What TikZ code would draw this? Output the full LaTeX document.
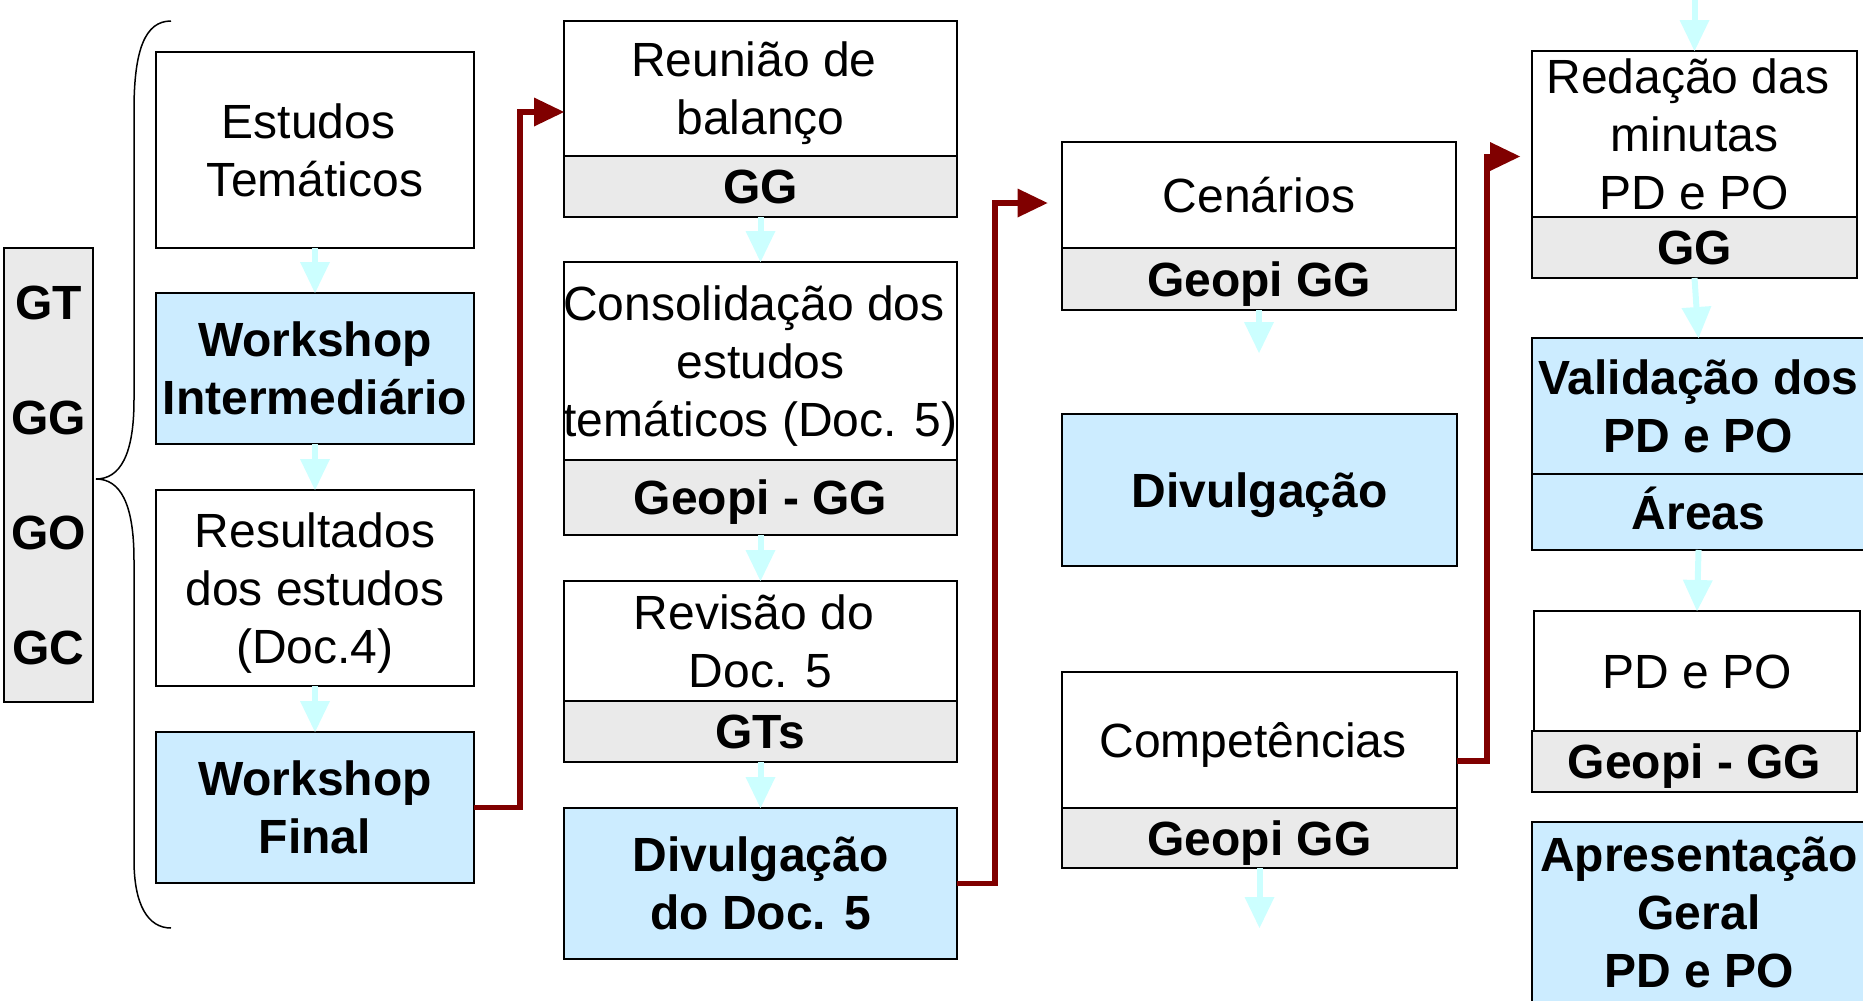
\documentclass[tikz,border=0pt]{standalone}
\usepackage{fontspec}
\setmainfont{Liberation Sans}
\usetikzlibrary{arrows.meta}
\definecolor{bluef}{RGB}{204,236,255}
\definecolor{grayf}{RGB}{234,234,234}
\definecolor{cyanar}{RGB}{204,255,255}
\definecolor{redar}{RGB}{128,0,0}
\newcommand\zs{\rule[-12pt]{0pt}{58pt}}
\newcommand\tsp{\rule{13pt}{0pt}}
\newcommand\bx[6]{%
  \pgfmathsetmacro\bxw{#5-#3}\pgfmathsetmacro\bxh{#6-#4}%
  \node[#2,anchor=north west,minimum width=\bxw pt,minimum height=\bxh pt] (#1) at (#3,#4) {};}
\begin{document}
\begin{tikzpicture}[x=1pt,y=-1pt,
  box/.style={draw=black,line width=1.5pt,inner sep=0pt,outer sep=0pt},
  wbox/.style={box,fill=white},
  gbox/.style={box,fill=grayf},
  bbox/.style={box,fill=bluef},
  txt/.style={align=center,inner sep=0pt,font=\fontsize{48}{58}\selectfont},
  btxt/.style={txt,font=\fontsize{48}{58}\selectfont\bfseries},
  flow/.style={draw=cyanar,line width=6pt,-{Triangle[length=31pt,width=30pt,line width=0pt]}},
  link/.style={draw=redar,line width=5.5pt,-{Triangle[length=30pt,width=29pt,line width=0pt]}},
  bracel/.style={draw=black,line width=1.5pt}]
\useasboundingbox (0,0) rectangle (1863,1001);

% boxes
\bx{grp}{gbox}{4}{248}{93}{702}
\bx{est}{wbox}{156}{52}{474}{248}
\bx{wi}{bbox}{156}{293}{474}{444}
\bx{res}{wbox}{156}{490}{474}{686}
\bx{wf}{bbox}{156}{732}{474}{883}
\bx{reu}{wbox}{564}{21}{957}{156}
\bx{reug}{gbox}{564}{156}{957}{217}
\bx{con}{wbox}{564}{262}{957}{460}
\bx{cong}{gbox}{564}{460}{957}{535}
\bx{rev}{wbox}{564}{581}{957}{701}
\bx{revg}{gbox}{564}{701}{957}{762}
\bx{dvd}{bbox}{564}{808}{957}{959}
\bx{cen}{wbox}{1062}{142}{1456}{248}
\bx{ceng}{gbox}{1062}{248}{1456}{310}
\bx{dvg}{bbox}{1062}{414}{1457}{566}
\bx{com}{wbox}{1062}{672}{1457}{808}
\bx{comg}{gbox}{1062}{808}{1457}{868}
\bx{rdm}{wbox}{1532}{51}{1857}{217}
\bx{rdmg}{gbox}{1532}{217}{1857}{278}
\bx{val}{bbox}{1532}{338}{1865}{474}
\bx{valg}{bbox}{1532}{474}{1865}{550}
\bx{pd}{wbox}{1534}{611}{1860}{731}
\bx{pdg}{gbox}{1532}{731}{1857}{792}
\bx{apr}{bbox}{1532}{822}{1866}{1003}

% texts
\node[btxt] (grpT) at (grp) {\zs GT\\[57pt]\zs GG\\[57pt]\zs GO\\[57pt]\zs GC};
\node[txt] (estT) at (est) {\zs Estudos\tsp\\\zs Temáticos};
\node[btxt] (wiT) at (wi) {\zs Workshop\\\zs Intermediário};
\node[txt] (resT) at (res) {\zs Resultados\\\zs dos estudos\\\zs (Doc.4)};
\node[btxt] (wfT) at (wf) {\zs Workshop\\\zs Final};
\node[txt] (reuT) at (reu) {\zs Reunião de\tsp\\\zs balanço};
\node[btxt] (reugT) at (reug) {\zs GG};
\node[txt] (conT) at (con) {\zs Consolidação dos\tsp\\\zs estudos\\\zs temáticos (Doc. 5)};
\node[btxt] (congT) at (cong) {\zs Geopi - GG};
\node[txt] (revT) at (rev) {\zs Revisão do\tsp\\\zs Doc. 5};
\node[btxt] (revgT) at (revg) {\zs GTs};
\node[btxt] (dvdT) at (dvd) {\zs Divulgação\\\zs do Doc. 5};
\node[txt] (cenT) at (cen) {\zs Cenários};
\node[btxt] (cengT) at (ceng) {\zs Geopi GG};
\node[btxt] (dvgT) at (dvg) {\zs Divulgação};
\node[txt] (comT) at (com) {\zs Competências\tsp};
\node[btxt] (comgT) at (comg) {\zs Geopi GG};
\node[txt] (rdmT) at (rdm) {\zs Redação das\tsp\\\zs minutas\\\zs PD e PO};
\node[btxt] (rdmgT) at (rdmg) {\zs GG};
\node[btxt] (valT) at (val) {\zs Validação dos\\\zs PD e PO};
\node[btxt] (valgT) at (valg) {\zs Áreas};
\node[txt] (pdT) at (pd) {\zs PD e PO};
\node[btxt] (pdgT) at (pdg) {\zs Geopi - GG};
\node[btxt] (aprT) at (apr) {\zs Apresentação\\\zs Geral\\\zs PD e PO};

% brace
\draw[bracel] (171,21) .. controls (145,21) and (134,50) .. (134,110) -- (134,400)
  .. controls (134,455) and (120,479) .. (96,479)
  .. controls (120,479) and (134,503) .. (134,560) -- (134,860)
  .. controls (134,905) and (148,928) .. (171,928);

% light flow arrows
\draw[flow] (est.south) -- (wi.north);
\draw[flow] (wi.south) -- (res.north);
\draw[flow] (res.south) -- (wf.north);
\draw[flow] (reug.south) -- (con.north);
\draw[flow] (cong.south) -- (rev.north);
\draw[flow] (revg.south) -- (dvd.north);
\coordinate (cenout) at (1259,353);
\draw[flow] (ceng.south) -- (cenout);
\coordinate (comout) at (1259.5,928);
\draw[flow] (comg.south) -- (comout);
\coordinate (topin) at (1694.5,-10);
\draw[flow] (topin) -- (rdm.north);
\draw[flow] (rdmg.south) -- (val.north);
\draw[flow] (valg.south) -- (pd.north);

% dark red links
\coordinate (in1) at ([yshift=-23.5pt]reu.west);
\draw[link] (wf.east) -- ++(46,0) |- (in1);
\coordinate (in2) at ([xshift=-14.5pt,yshift=-8pt]cen.west);
\draw[link] (dvd.east) -- ++(38,0) |- (in2);
\coordinate (in3) at ([xshift=-12pt,yshift=-22.5pt]rdm.west);
\draw[link] ([yshift=-21pt]com.east) -- ++(30,0) |- (in3);
\end{tikzpicture}
\end{document}
